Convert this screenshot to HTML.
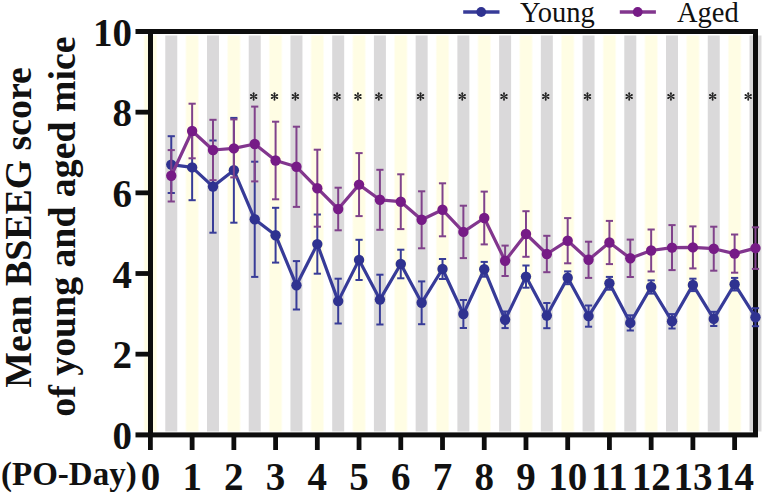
<!DOCTYPE html><html><head><meta charset="utf-8"><title>BSEEG</title>
<style>html,body{margin:0;padding:0;background:#fff;width:764px;height:494px;overflow:hidden}svg{display:block}text{font-family:"Liberation Serif",serif}</style></head><body>
<svg width="764" height="494" viewBox="0 0 764 494">
<defs><linearGradient id="yg" x1="0" x2="1" y1="0" y2="0"><stop offset="0" stop-color="#fffde4" stop-opacity="0"/><stop offset="0.14" stop-color="#fffde4" stop-opacity="1"/><stop offset="0.86" stop-color="#fffde4" stop-opacity="1"/><stop offset="1" stop-color="#fffde4" stop-opacity="0"/></linearGradient></defs>
<rect x="143.15" y="35.5" width="14.5" height="396" fill="url(#yg)"/>
<rect x="165.27" y="35.5" width="12" height="396" fill="#dad9da"/>
<rect x="184.88" y="35.5" width="14.5" height="396" fill="url(#yg)"/>
<rect x="207.00" y="35.5" width="12" height="396" fill="#dad9da"/>
<rect x="226.61" y="35.5" width="14.5" height="396" fill="url(#yg)"/>
<rect x="248.72" y="35.5" width="12" height="396" fill="#dad9da"/>
<rect x="268.34" y="35.5" width="14.5" height="396" fill="url(#yg)"/>
<rect x="290.45" y="35.5" width="12" height="396" fill="#dad9da"/>
<rect x="310.07" y="35.5" width="14.5" height="396" fill="url(#yg)"/>
<rect x="332.19" y="35.5" width="12" height="396" fill="#dad9da"/>
<rect x="351.80" y="35.5" width="14.5" height="396" fill="url(#yg)"/>
<rect x="373.91" y="35.5" width="12" height="396" fill="#dad9da"/>
<rect x="393.53" y="35.5" width="14.5" height="396" fill="url(#yg)"/>
<rect x="415.64" y="35.5" width="12" height="396" fill="#dad9da"/>
<rect x="435.26" y="35.5" width="14.5" height="396" fill="url(#yg)"/>
<rect x="457.38" y="35.5" width="12" height="396" fill="#dad9da"/>
<rect x="476.99" y="35.5" width="14.5" height="396" fill="url(#yg)"/>
<rect x="499.11" y="35.5" width="12" height="396" fill="#dad9da"/>
<rect x="518.72" y="35.5" width="14.5" height="396" fill="url(#yg)"/>
<rect x="540.83" y="35.5" width="12" height="396" fill="#dad9da"/>
<rect x="560.45" y="35.5" width="14.5" height="396" fill="url(#yg)"/>
<rect x="582.56" y="35.5" width="12" height="396" fill="#dad9da"/>
<rect x="602.18" y="35.5" width="14.5" height="396" fill="url(#yg)"/>
<rect x="624.29" y="35.5" width="12" height="396" fill="#dad9da"/>
<rect x="643.91" y="35.5" width="14.5" height="396" fill="url(#yg)"/>
<rect x="666.02" y="35.5" width="12" height="396" fill="#dad9da"/>
<rect x="685.64" y="35.5" width="14.5" height="396" fill="url(#yg)"/>
<rect x="707.75" y="35.5" width="12" height="396" fill="#dad9da"/>
<rect x="727.37" y="35.5" width="14.5" height="396" fill="url(#yg)"/>
<rect x="749.48" y="35.5" width="12" height="396" fill="#dad9da"/>
<rect x="135.5" y="29" width="622.5" height="5" fill="#0d0d0d"/>
<rect x="135.5" y="432.4" width="622.5" height="5" fill="#0d0d0d"/>
<rect x="148" y="29" width="5" height="408" fill="#0d0d0d"/>
<rect x="753" y="29" width="5" height="408" fill="#0d0d0d"/>
<rect x="135.5" y="351.78" width="14" height="4.8" fill="#0d0d0d"/>
<rect x="135.5" y="271.11" width="14" height="4.8" fill="#0d0d0d"/>
<rect x="135.5" y="190.44" width="14" height="4.8" fill="#0d0d0d"/>
<rect x="135.5" y="109.77" width="14" height="4.8" fill="#0d0d0d"/>
<rect x="148.00" y="436" width="4.8" height="14" fill="#0d0d0d"/>
<rect x="189.73" y="436" width="4.8" height="14" fill="#0d0d0d"/>
<rect x="231.46" y="436" width="4.8" height="14" fill="#0d0d0d"/>
<rect x="273.19" y="436" width="4.8" height="14" fill="#0d0d0d"/>
<rect x="314.92" y="436" width="4.8" height="14" fill="#0d0d0d"/>
<rect x="356.65" y="436" width="4.8" height="14" fill="#0d0d0d"/>
<rect x="398.38" y="436" width="4.8" height="14" fill="#0d0d0d"/>
<rect x="440.11" y="436" width="4.8" height="14" fill="#0d0d0d"/>
<rect x="481.84" y="436" width="4.8" height="14" fill="#0d0d0d"/>
<rect x="523.57" y="436" width="4.8" height="14" fill="#0d0d0d"/>
<rect x="565.30" y="436" width="4.8" height="14" fill="#0d0d0d"/>
<rect x="607.03" y="436" width="4.8" height="14" fill="#0d0d0d"/>
<rect x="648.76" y="436" width="4.8" height="14" fill="#0d0d0d"/>
<rect x="690.49" y="436" width="4.8" height="14" fill="#0d0d0d"/>
<rect x="732.22" y="436" width="4.8" height="14" fill="#0d0d0d"/>
<text x="132" y="449.05" font-size="39" font-weight="bold" text-anchor="end" fill="#111">0</text>
<text x="132" y="368.38" font-size="39" font-weight="bold" text-anchor="end" fill="#111">2</text>
<text x="132" y="287.71" font-size="39" font-weight="bold" text-anchor="end" fill="#111">4</text>
<text x="132" y="207.04" font-size="39" font-weight="bold" text-anchor="end" fill="#111">6</text>
<text x="132" y="126.37" font-size="39" font-weight="bold" text-anchor="end" fill="#111">8</text>
<text x="132" y="45.70" font-size="39" font-weight="bold" text-anchor="end" fill="#111">10</text>
<text x="150.40" y="489.5" font-size="39" font-weight="bold" text-anchor="middle" fill="#111">0</text>
<text x="192.13" y="489.5" font-size="39" font-weight="bold" text-anchor="middle" fill="#111">1</text>
<text x="233.86" y="489.5" font-size="39" font-weight="bold" text-anchor="middle" fill="#111">2</text>
<text x="275.59" y="489.5" font-size="39" font-weight="bold" text-anchor="middle" fill="#111">3</text>
<text x="317.32" y="489.5" font-size="39" font-weight="bold" text-anchor="middle" fill="#111">4</text>
<text x="359.05" y="489.5" font-size="39" font-weight="bold" text-anchor="middle" fill="#111">5</text>
<text x="400.78" y="489.5" font-size="39" font-weight="bold" text-anchor="middle" fill="#111">6</text>
<text x="442.51" y="489.5" font-size="39" font-weight="bold" text-anchor="middle" fill="#111">7</text>
<text x="484.24" y="489.5" font-size="39" font-weight="bold" text-anchor="middle" fill="#111">8</text>
<text x="525.97" y="489.5" font-size="39" font-weight="bold" text-anchor="middle" fill="#111">9</text>
<text x="567.70" y="489.5" font-size="39" font-weight="bold" text-anchor="middle" fill="#111">10</text>
<text x="609.43" y="489.5" font-size="39" font-weight="bold" text-anchor="middle" fill="#111">11</text>
<text x="651.16" y="489.5" font-size="39" font-weight="bold" text-anchor="middle" fill="#111">12</text>
<text x="692.89" y="489.5" font-size="39" font-weight="bold" text-anchor="middle" fill="#111">13</text>
<text x="734.62" y="489.5" font-size="39" font-weight="bold" text-anchor="middle" fill="#111">14</text>
<text x="1" y="484.5" font-size="33" font-weight="bold" fill="#111">(PO-Day)</text>
<text transform="translate(31.2,227.5) rotate(-90)" font-size="37.8" font-weight="bold" text-anchor="middle" fill="#111">Mean BSEEG score</text>
<text transform="translate(74.8,226.6) rotate(-90)" font-size="37.8" font-weight="bold" text-anchor="middle" fill="#111">of young and aged mice</text>
<line x1="463.2" y1="12" x2="499.5" y2="12" stroke="#373b98" stroke-width="3.6"/>
<circle cx="481.2" cy="12" r="4.9" fill="#2f3290"/>
<text x="520" y="21.6" font-size="28.5" fill="#111">Young</text>
<line x1="619.8" y1="12" x2="655.9" y2="12" stroke="#82368e" stroke-width="3.6"/>
<circle cx="637.7" cy="12" r="4.9" fill="#761b86"/>
<text x="677" y="21.6" font-size="28.5" fill="#111">Aged</text>
<g transform="translate(253.62,96.50)" fill="#222"><path d="M -0.35,0 L -0.95,-3.2 A 0.95 0.95 0 0 1 0.95,-3.2 L 0.35,0 Z" transform="rotate(0)"/><path d="M -0.35,0 L -0.95,-3.2 A 0.95 0.95 0 0 1 0.95,-3.2 L 0.35,0 Z" transform="rotate(60)"/><path d="M -0.35,0 L -0.95,-3.2 A 0.95 0.95 0 0 1 0.95,-3.2 L 0.35,0 Z" transform="rotate(120)"/><path d="M -0.35,0 L -0.95,-3.2 A 0.95 0.95 0 0 1 0.95,-3.2 L 0.35,0 Z" transform="rotate(180)"/><path d="M -0.35,0 L -0.95,-3.2 A 0.95 0.95 0 0 1 0.95,-3.2 L 0.35,0 Z" transform="rotate(240)"/><path d="M -0.35,0 L -0.95,-3.2 A 0.95 0.95 0 0 1 0.95,-3.2 L 0.35,0 Z" transform="rotate(300)"/></g>
<g transform="translate(274.49,96.50)" fill="#222"><path d="M -0.35,0 L -0.95,-3.2 A 0.95 0.95 0 0 1 0.95,-3.2 L 0.35,0 Z" transform="rotate(0)"/><path d="M -0.35,0 L -0.95,-3.2 A 0.95 0.95 0 0 1 0.95,-3.2 L 0.35,0 Z" transform="rotate(60)"/><path d="M -0.35,0 L -0.95,-3.2 A 0.95 0.95 0 0 1 0.95,-3.2 L 0.35,0 Z" transform="rotate(120)"/><path d="M -0.35,0 L -0.95,-3.2 A 0.95 0.95 0 0 1 0.95,-3.2 L 0.35,0 Z" transform="rotate(180)"/><path d="M -0.35,0 L -0.95,-3.2 A 0.95 0.95 0 0 1 0.95,-3.2 L 0.35,0 Z" transform="rotate(240)"/><path d="M -0.35,0 L -0.95,-3.2 A 0.95 0.95 0 0 1 0.95,-3.2 L 0.35,0 Z" transform="rotate(300)"/></g>
<g transform="translate(295.35,96.50)" fill="#222"><path d="M -0.35,0 L -0.95,-3.2 A 0.95 0.95 0 0 1 0.95,-3.2 L 0.35,0 Z" transform="rotate(0)"/><path d="M -0.35,0 L -0.95,-3.2 A 0.95 0.95 0 0 1 0.95,-3.2 L 0.35,0 Z" transform="rotate(60)"/><path d="M -0.35,0 L -0.95,-3.2 A 0.95 0.95 0 0 1 0.95,-3.2 L 0.35,0 Z" transform="rotate(120)"/><path d="M -0.35,0 L -0.95,-3.2 A 0.95 0.95 0 0 1 0.95,-3.2 L 0.35,0 Z" transform="rotate(180)"/><path d="M -0.35,0 L -0.95,-3.2 A 0.95 0.95 0 0 1 0.95,-3.2 L 0.35,0 Z" transform="rotate(240)"/><path d="M -0.35,0 L -0.95,-3.2 A 0.95 0.95 0 0 1 0.95,-3.2 L 0.35,0 Z" transform="rotate(300)"/></g>
<g transform="translate(337.08,96.50)" fill="#222"><path d="M -0.35,0 L -0.95,-3.2 A 0.95 0.95 0 0 1 0.95,-3.2 L 0.35,0 Z" transform="rotate(0)"/><path d="M -0.35,0 L -0.95,-3.2 A 0.95 0.95 0 0 1 0.95,-3.2 L 0.35,0 Z" transform="rotate(60)"/><path d="M -0.35,0 L -0.95,-3.2 A 0.95 0.95 0 0 1 0.95,-3.2 L 0.35,0 Z" transform="rotate(120)"/><path d="M -0.35,0 L -0.95,-3.2 A 0.95 0.95 0 0 1 0.95,-3.2 L 0.35,0 Z" transform="rotate(180)"/><path d="M -0.35,0 L -0.95,-3.2 A 0.95 0.95 0 0 1 0.95,-3.2 L 0.35,0 Z" transform="rotate(240)"/><path d="M -0.35,0 L -0.95,-3.2 A 0.95 0.95 0 0 1 0.95,-3.2 L 0.35,0 Z" transform="rotate(300)"/></g>
<g transform="translate(357.95,96.50)" fill="#222"><path d="M -0.35,0 L -0.95,-3.2 A 0.95 0.95 0 0 1 0.95,-3.2 L 0.35,0 Z" transform="rotate(0)"/><path d="M -0.35,0 L -0.95,-3.2 A 0.95 0.95 0 0 1 0.95,-3.2 L 0.35,0 Z" transform="rotate(60)"/><path d="M -0.35,0 L -0.95,-3.2 A 0.95 0.95 0 0 1 0.95,-3.2 L 0.35,0 Z" transform="rotate(120)"/><path d="M -0.35,0 L -0.95,-3.2 A 0.95 0.95 0 0 1 0.95,-3.2 L 0.35,0 Z" transform="rotate(180)"/><path d="M -0.35,0 L -0.95,-3.2 A 0.95 0.95 0 0 1 0.95,-3.2 L 0.35,0 Z" transform="rotate(240)"/><path d="M -0.35,0 L -0.95,-3.2 A 0.95 0.95 0 0 1 0.95,-3.2 L 0.35,0 Z" transform="rotate(300)"/></g>
<g transform="translate(378.81,96.50)" fill="#222"><path d="M -0.35,0 L -0.95,-3.2 A 0.95 0.95 0 0 1 0.95,-3.2 L 0.35,0 Z" transform="rotate(0)"/><path d="M -0.35,0 L -0.95,-3.2 A 0.95 0.95 0 0 1 0.95,-3.2 L 0.35,0 Z" transform="rotate(60)"/><path d="M -0.35,0 L -0.95,-3.2 A 0.95 0.95 0 0 1 0.95,-3.2 L 0.35,0 Z" transform="rotate(120)"/><path d="M -0.35,0 L -0.95,-3.2 A 0.95 0.95 0 0 1 0.95,-3.2 L 0.35,0 Z" transform="rotate(180)"/><path d="M -0.35,0 L -0.95,-3.2 A 0.95 0.95 0 0 1 0.95,-3.2 L 0.35,0 Z" transform="rotate(240)"/><path d="M -0.35,0 L -0.95,-3.2 A 0.95 0.95 0 0 1 0.95,-3.2 L 0.35,0 Z" transform="rotate(300)"/></g>
<g transform="translate(420.54,96.50)" fill="#222"><path d="M -0.35,0 L -0.95,-3.2 A 0.95 0.95 0 0 1 0.95,-3.2 L 0.35,0 Z" transform="rotate(0)"/><path d="M -0.35,0 L -0.95,-3.2 A 0.95 0.95 0 0 1 0.95,-3.2 L 0.35,0 Z" transform="rotate(60)"/><path d="M -0.35,0 L -0.95,-3.2 A 0.95 0.95 0 0 1 0.95,-3.2 L 0.35,0 Z" transform="rotate(120)"/><path d="M -0.35,0 L -0.95,-3.2 A 0.95 0.95 0 0 1 0.95,-3.2 L 0.35,0 Z" transform="rotate(180)"/><path d="M -0.35,0 L -0.95,-3.2 A 0.95 0.95 0 0 1 0.95,-3.2 L 0.35,0 Z" transform="rotate(240)"/><path d="M -0.35,0 L -0.95,-3.2 A 0.95 0.95 0 0 1 0.95,-3.2 L 0.35,0 Z" transform="rotate(300)"/></g>
<g transform="translate(462.27,96.50)" fill="#222"><path d="M -0.35,0 L -0.95,-3.2 A 0.95 0.95 0 0 1 0.95,-3.2 L 0.35,0 Z" transform="rotate(0)"/><path d="M -0.35,0 L -0.95,-3.2 A 0.95 0.95 0 0 1 0.95,-3.2 L 0.35,0 Z" transform="rotate(60)"/><path d="M -0.35,0 L -0.95,-3.2 A 0.95 0.95 0 0 1 0.95,-3.2 L 0.35,0 Z" transform="rotate(120)"/><path d="M -0.35,0 L -0.95,-3.2 A 0.95 0.95 0 0 1 0.95,-3.2 L 0.35,0 Z" transform="rotate(180)"/><path d="M -0.35,0 L -0.95,-3.2 A 0.95 0.95 0 0 1 0.95,-3.2 L 0.35,0 Z" transform="rotate(240)"/><path d="M -0.35,0 L -0.95,-3.2 A 0.95 0.95 0 0 1 0.95,-3.2 L 0.35,0 Z" transform="rotate(300)"/></g>
<g transform="translate(504.00,96.50)" fill="#222"><path d="M -0.35,0 L -0.95,-3.2 A 0.95 0.95 0 0 1 0.95,-3.2 L 0.35,0 Z" transform="rotate(0)"/><path d="M -0.35,0 L -0.95,-3.2 A 0.95 0.95 0 0 1 0.95,-3.2 L 0.35,0 Z" transform="rotate(60)"/><path d="M -0.35,0 L -0.95,-3.2 A 0.95 0.95 0 0 1 0.95,-3.2 L 0.35,0 Z" transform="rotate(120)"/><path d="M -0.35,0 L -0.95,-3.2 A 0.95 0.95 0 0 1 0.95,-3.2 L 0.35,0 Z" transform="rotate(180)"/><path d="M -0.35,0 L -0.95,-3.2 A 0.95 0.95 0 0 1 0.95,-3.2 L 0.35,0 Z" transform="rotate(240)"/><path d="M -0.35,0 L -0.95,-3.2 A 0.95 0.95 0 0 1 0.95,-3.2 L 0.35,0 Z" transform="rotate(300)"/></g>
<g transform="translate(545.73,96.50)" fill="#222"><path d="M -0.35,0 L -0.95,-3.2 A 0.95 0.95 0 0 1 0.95,-3.2 L 0.35,0 Z" transform="rotate(0)"/><path d="M -0.35,0 L -0.95,-3.2 A 0.95 0.95 0 0 1 0.95,-3.2 L 0.35,0 Z" transform="rotate(60)"/><path d="M -0.35,0 L -0.95,-3.2 A 0.95 0.95 0 0 1 0.95,-3.2 L 0.35,0 Z" transform="rotate(120)"/><path d="M -0.35,0 L -0.95,-3.2 A 0.95 0.95 0 0 1 0.95,-3.2 L 0.35,0 Z" transform="rotate(180)"/><path d="M -0.35,0 L -0.95,-3.2 A 0.95 0.95 0 0 1 0.95,-3.2 L 0.35,0 Z" transform="rotate(240)"/><path d="M -0.35,0 L -0.95,-3.2 A 0.95 0.95 0 0 1 0.95,-3.2 L 0.35,0 Z" transform="rotate(300)"/></g>
<g transform="translate(587.46,96.50)" fill="#222"><path d="M -0.35,0 L -0.95,-3.2 A 0.95 0.95 0 0 1 0.95,-3.2 L 0.35,0 Z" transform="rotate(0)"/><path d="M -0.35,0 L -0.95,-3.2 A 0.95 0.95 0 0 1 0.95,-3.2 L 0.35,0 Z" transform="rotate(60)"/><path d="M -0.35,0 L -0.95,-3.2 A 0.95 0.95 0 0 1 0.95,-3.2 L 0.35,0 Z" transform="rotate(120)"/><path d="M -0.35,0 L -0.95,-3.2 A 0.95 0.95 0 0 1 0.95,-3.2 L 0.35,0 Z" transform="rotate(180)"/><path d="M -0.35,0 L -0.95,-3.2 A 0.95 0.95 0 0 1 0.95,-3.2 L 0.35,0 Z" transform="rotate(240)"/><path d="M -0.35,0 L -0.95,-3.2 A 0.95 0.95 0 0 1 0.95,-3.2 L 0.35,0 Z" transform="rotate(300)"/></g>
<g transform="translate(629.19,96.50)" fill="#222"><path d="M -0.35,0 L -0.95,-3.2 A 0.95 0.95 0 0 1 0.95,-3.2 L 0.35,0 Z" transform="rotate(0)"/><path d="M -0.35,0 L -0.95,-3.2 A 0.95 0.95 0 0 1 0.95,-3.2 L 0.35,0 Z" transform="rotate(60)"/><path d="M -0.35,0 L -0.95,-3.2 A 0.95 0.95 0 0 1 0.95,-3.2 L 0.35,0 Z" transform="rotate(120)"/><path d="M -0.35,0 L -0.95,-3.2 A 0.95 0.95 0 0 1 0.95,-3.2 L 0.35,0 Z" transform="rotate(180)"/><path d="M -0.35,0 L -0.95,-3.2 A 0.95 0.95 0 0 1 0.95,-3.2 L 0.35,0 Z" transform="rotate(240)"/><path d="M -0.35,0 L -0.95,-3.2 A 0.95 0.95 0 0 1 0.95,-3.2 L 0.35,0 Z" transform="rotate(300)"/></g>
<g transform="translate(670.92,96.50)" fill="#222"><path d="M -0.35,0 L -0.95,-3.2 A 0.95 0.95 0 0 1 0.95,-3.2 L 0.35,0 Z" transform="rotate(0)"/><path d="M -0.35,0 L -0.95,-3.2 A 0.95 0.95 0 0 1 0.95,-3.2 L 0.35,0 Z" transform="rotate(60)"/><path d="M -0.35,0 L -0.95,-3.2 A 0.95 0.95 0 0 1 0.95,-3.2 L 0.35,0 Z" transform="rotate(120)"/><path d="M -0.35,0 L -0.95,-3.2 A 0.95 0.95 0 0 1 0.95,-3.2 L 0.35,0 Z" transform="rotate(180)"/><path d="M -0.35,0 L -0.95,-3.2 A 0.95 0.95 0 0 1 0.95,-3.2 L 0.35,0 Z" transform="rotate(240)"/><path d="M -0.35,0 L -0.95,-3.2 A 0.95 0.95 0 0 1 0.95,-3.2 L 0.35,0 Z" transform="rotate(300)"/></g>
<g transform="translate(712.65,96.50)" fill="#222"><path d="M -0.35,0 L -0.95,-3.2 A 0.95 0.95 0 0 1 0.95,-3.2 L 0.35,0 Z" transform="rotate(0)"/><path d="M -0.35,0 L -0.95,-3.2 A 0.95 0.95 0 0 1 0.95,-3.2 L 0.35,0 Z" transform="rotate(60)"/><path d="M -0.35,0 L -0.95,-3.2 A 0.95 0.95 0 0 1 0.95,-3.2 L 0.35,0 Z" transform="rotate(120)"/><path d="M -0.35,0 L -0.95,-3.2 A 0.95 0.95 0 0 1 0.95,-3.2 L 0.35,0 Z" transform="rotate(180)"/><path d="M -0.35,0 L -0.95,-3.2 A 0.95 0.95 0 0 1 0.95,-3.2 L 0.35,0 Z" transform="rotate(240)"/><path d="M -0.35,0 L -0.95,-3.2 A 0.95 0.95 0 0 1 0.95,-3.2 L 0.35,0 Z" transform="rotate(300)"/></g>
<g transform="translate(748.20,96.50)" fill="#222"><path d="M -0.35,0 L -0.95,-3.2 A 0.95 0.95 0 0 1 0.95,-3.2 L 0.35,0 Z" transform="rotate(0)"/><path d="M -0.35,0 L -0.95,-3.2 A 0.95 0.95 0 0 1 0.95,-3.2 L 0.35,0 Z" transform="rotate(60)"/><path d="M -0.35,0 L -0.95,-3.2 A 0.95 0.95 0 0 1 0.95,-3.2 L 0.35,0 Z" transform="rotate(120)"/><path d="M -0.35,0 L -0.95,-3.2 A 0.95 0.95 0 0 1 0.95,-3.2 L 0.35,0 Z" transform="rotate(180)"/><path d="M -0.35,0 L -0.95,-3.2 A 0.95 0.95 0 0 1 0.95,-3.2 L 0.35,0 Z" transform="rotate(240)"/><path d="M -0.35,0 L -0.95,-3.2 A 0.95 0.95 0 0 1 0.95,-3.2 L 0.35,0 Z" transform="rotate(300)"/></g>
<line x1="171.27" y1="136.20" x2="171.27" y2="193.00" stroke="#383c98" stroke-width="2"/><line x1="167.67" y1="136.20" x2="174.87" y2="136.20" stroke="#383c98" stroke-width="2"/><line x1="167.67" y1="193.00" x2="174.87" y2="193.00" stroke="#383c98" stroke-width="2"/><line x1="192.13" y1="134.60" x2="192.13" y2="200.20" stroke="#383c98" stroke-width="2"/><line x1="188.53" y1="134.60" x2="195.73" y2="134.60" stroke="#383c98" stroke-width="2"/><line x1="188.53" y1="200.20" x2="195.73" y2="200.20" stroke="#383c98" stroke-width="2"/><line x1="213.00" y1="140.50" x2="213.00" y2="232.70" stroke="#383c98" stroke-width="2"/><line x1="209.40" y1="140.50" x2="216.59" y2="140.50" stroke="#383c98" stroke-width="2"/><line x1="209.40" y1="232.70" x2="216.59" y2="232.70" stroke="#383c98" stroke-width="2"/><line x1="233.86" y1="117.90" x2="233.86" y2="222.70" stroke="#383c98" stroke-width="2"/><line x1="230.26" y1="117.90" x2="237.46" y2="117.90" stroke="#383c98" stroke-width="2"/><line x1="230.26" y1="222.70" x2="237.46" y2="222.70" stroke="#383c98" stroke-width="2"/><line x1="254.72" y1="161.70" x2="254.72" y2="276.90" stroke="#383c98" stroke-width="2"/><line x1="251.12" y1="161.70" x2="258.32" y2="161.70" stroke="#383c98" stroke-width="2"/><line x1="251.12" y1="276.90" x2="258.32" y2="276.90" stroke="#383c98" stroke-width="2"/><line x1="275.59" y1="207.80" x2="275.59" y2="262.60" stroke="#383c98" stroke-width="2"/><line x1="271.99" y1="207.80" x2="279.19" y2="207.80" stroke="#383c98" stroke-width="2"/><line x1="271.99" y1="262.60" x2="279.19" y2="262.60" stroke="#383c98" stroke-width="2"/><line x1="296.45" y1="261.10" x2="296.45" y2="309.50" stroke="#383c98" stroke-width="2"/><line x1="292.85" y1="261.10" x2="300.06" y2="261.10" stroke="#383c98" stroke-width="2"/><line x1="292.85" y1="309.50" x2="300.06" y2="309.50" stroke="#383c98" stroke-width="2"/><line x1="317.32" y1="214.50" x2="317.32" y2="273.70" stroke="#383c98" stroke-width="2"/><line x1="313.72" y1="214.50" x2="320.92" y2="214.50" stroke="#383c98" stroke-width="2"/><line x1="313.72" y1="273.70" x2="320.92" y2="273.70" stroke="#383c98" stroke-width="2"/><line x1="338.19" y1="278.70" x2="338.19" y2="323.50" stroke="#383c98" stroke-width="2"/><line x1="334.58" y1="278.70" x2="341.79" y2="278.70" stroke="#383c98" stroke-width="2"/><line x1="334.58" y1="323.50" x2="341.79" y2="323.50" stroke="#383c98" stroke-width="2"/><line x1="359.05" y1="239.80" x2="359.05" y2="280.00" stroke="#383c98" stroke-width="2"/><line x1="355.45" y1="239.80" x2="362.65" y2="239.80" stroke="#383c98" stroke-width="2"/><line x1="355.45" y1="280.00" x2="362.65" y2="280.00" stroke="#383c98" stroke-width="2"/><line x1="379.91" y1="274.70" x2="379.91" y2="324.50" stroke="#383c98" stroke-width="2"/><line x1="376.31" y1="274.70" x2="383.51" y2="274.70" stroke="#383c98" stroke-width="2"/><line x1="376.31" y1="324.50" x2="383.51" y2="324.50" stroke="#383c98" stroke-width="2"/><line x1="400.78" y1="249.70" x2="400.78" y2="278.30" stroke="#383c98" stroke-width="2"/><line x1="397.18" y1="249.70" x2="404.38" y2="249.70" stroke="#383c98" stroke-width="2"/><line x1="397.18" y1="278.30" x2="404.38" y2="278.30" stroke="#383c98" stroke-width="2"/><line x1="421.64" y1="281.40" x2="421.64" y2="324.20" stroke="#383c98" stroke-width="2"/><line x1="418.04" y1="281.40" x2="425.25" y2="281.40" stroke="#383c98" stroke-width="2"/><line x1="418.04" y1="324.20" x2="425.25" y2="324.20" stroke="#383c98" stroke-width="2"/><line x1="442.51" y1="259.00" x2="442.51" y2="279.00" stroke="#383c98" stroke-width="2"/><line x1="438.91" y1="259.00" x2="446.11" y2="259.00" stroke="#383c98" stroke-width="2"/><line x1="438.91" y1="279.00" x2="446.11" y2="279.00" stroke="#383c98" stroke-width="2"/><line x1="463.38" y1="300.00" x2="463.38" y2="328.00" stroke="#383c98" stroke-width="2"/><line x1="459.77" y1="300.00" x2="466.98" y2="300.00" stroke="#383c98" stroke-width="2"/><line x1="459.77" y1="328.00" x2="466.98" y2="328.00" stroke="#383c98" stroke-width="2"/><line x1="484.24" y1="261.90" x2="484.24" y2="276.70" stroke="#383c98" stroke-width="2"/><line x1="480.64" y1="261.90" x2="487.84" y2="261.90" stroke="#383c98" stroke-width="2"/><line x1="480.64" y1="276.70" x2="487.84" y2="276.70" stroke="#383c98" stroke-width="2"/><line x1="505.11" y1="311.50" x2="505.11" y2="328.10" stroke="#383c98" stroke-width="2"/><line x1="501.50" y1="311.50" x2="508.71" y2="311.50" stroke="#383c98" stroke-width="2"/><line x1="501.50" y1="328.10" x2="508.71" y2="328.10" stroke="#383c98" stroke-width="2"/><line x1="525.97" y1="265.50" x2="525.97" y2="287.70" stroke="#383c98" stroke-width="2"/><line x1="522.37" y1="265.50" x2="529.57" y2="265.50" stroke="#383c98" stroke-width="2"/><line x1="522.37" y1="287.70" x2="529.57" y2="287.70" stroke="#383c98" stroke-width="2"/><line x1="546.83" y1="303.00" x2="546.83" y2="328.20" stroke="#383c98" stroke-width="2"/><line x1="543.23" y1="303.00" x2="550.43" y2="303.00" stroke="#383c98" stroke-width="2"/><line x1="543.23" y1="328.20" x2="550.43" y2="328.20" stroke="#383c98" stroke-width="2"/><line x1="567.70" y1="271.40" x2="567.70" y2="284.20" stroke="#383c98" stroke-width="2"/><line x1="564.10" y1="271.40" x2="571.30" y2="271.40" stroke="#383c98" stroke-width="2"/><line x1="564.10" y1="284.20" x2="571.30" y2="284.20" stroke="#383c98" stroke-width="2"/><line x1="588.56" y1="305.50" x2="588.56" y2="326.70" stroke="#383c98" stroke-width="2"/><line x1="584.96" y1="305.50" x2="592.16" y2="305.50" stroke="#383c98" stroke-width="2"/><line x1="584.96" y1="326.70" x2="592.16" y2="326.70" stroke="#383c98" stroke-width="2"/><line x1="609.43" y1="276.90" x2="609.43" y2="289.70" stroke="#383c98" stroke-width="2"/><line x1="605.83" y1="276.90" x2="613.03" y2="276.90" stroke="#383c98" stroke-width="2"/><line x1="605.83" y1="289.70" x2="613.03" y2="289.70" stroke="#383c98" stroke-width="2"/><line x1="630.29" y1="315.30" x2="630.29" y2="330.50" stroke="#383c98" stroke-width="2"/><line x1="626.69" y1="315.30" x2="633.89" y2="315.30" stroke="#383c98" stroke-width="2"/><line x1="626.69" y1="330.50" x2="633.89" y2="330.50" stroke="#383c98" stroke-width="2"/><line x1="651.16" y1="280.40" x2="651.16" y2="293.60" stroke="#383c98" stroke-width="2"/><line x1="647.56" y1="280.40" x2="654.76" y2="280.40" stroke="#383c98" stroke-width="2"/><line x1="647.56" y1="293.60" x2="654.76" y2="293.60" stroke="#383c98" stroke-width="2"/><line x1="672.02" y1="314.10" x2="672.02" y2="328.50" stroke="#383c98" stroke-width="2"/><line x1="668.42" y1="314.10" x2="675.62" y2="314.10" stroke="#383c98" stroke-width="2"/><line x1="668.42" y1="328.50" x2="675.62" y2="328.50" stroke="#383c98" stroke-width="2"/><line x1="692.89" y1="278.70" x2="692.89" y2="291.10" stroke="#383c98" stroke-width="2"/><line x1="689.29" y1="278.70" x2="696.49" y2="278.70" stroke="#383c98" stroke-width="2"/><line x1="689.29" y1="291.10" x2="696.49" y2="291.10" stroke="#383c98" stroke-width="2"/><line x1="713.75" y1="311.80" x2="713.75" y2="326.00" stroke="#383c98" stroke-width="2"/><line x1="710.15" y1="311.80" x2="717.35" y2="311.80" stroke="#383c98" stroke-width="2"/><line x1="710.15" y1="326.00" x2="717.35" y2="326.00" stroke="#383c98" stroke-width="2"/><line x1="734.62" y1="277.90" x2="734.62" y2="290.50" stroke="#383c98" stroke-width="2"/><line x1="731.02" y1="277.90" x2="738.22" y2="277.90" stroke="#383c98" stroke-width="2"/><line x1="731.02" y1="290.50" x2="738.22" y2="290.50" stroke="#383c98" stroke-width="2"/><line x1="755.48" y1="308.20" x2="755.48" y2="326.20" stroke="#383c98" stroke-width="2"/><line x1="751.88" y1="308.20" x2="759.08" y2="308.20" stroke="#383c98" stroke-width="2"/><line x1="751.88" y1="326.20" x2="759.08" y2="326.20" stroke="#383c98" stroke-width="2"/><polyline points="171.27,164.60 192.13,167.40 213.00,186.60 233.86,170.30 254.72,219.30 275.59,235.20 296.45,285.30 317.32,244.10 338.19,301.10 359.05,259.90 379.91,299.60 400.78,264.00 421.64,302.80 442.51,269.00 463.38,314.00 484.24,269.30 505.11,319.80 525.97,276.60 546.83,315.60 567.70,277.80 588.56,316.10 609.43,283.30 630.29,322.90 651.16,287.00 672.02,321.30 692.89,284.90 713.75,318.90 734.62,284.20 755.48,317.20" fill="none" stroke="#373b98" stroke-width="3.2" stroke-linejoin="round"/><circle cx="171.27" cy="164.60" r="5.2" fill="#2f3290"/><circle cx="192.13" cy="167.40" r="5.2" fill="#2f3290"/><circle cx="213.00" cy="186.60" r="5.2" fill="#2f3290"/><circle cx="233.86" cy="170.30" r="5.2" fill="#2f3290"/><circle cx="254.72" cy="219.30" r="5.2" fill="#2f3290"/><circle cx="275.59" cy="235.20" r="5.2" fill="#2f3290"/><circle cx="296.45" cy="285.30" r="5.2" fill="#2f3290"/><circle cx="317.32" cy="244.10" r="5.2" fill="#2f3290"/><circle cx="338.19" cy="301.10" r="5.2" fill="#2f3290"/><circle cx="359.05" cy="259.90" r="5.2" fill="#2f3290"/><circle cx="379.91" cy="299.60" r="5.2" fill="#2f3290"/><circle cx="400.78" cy="264.00" r="5.2" fill="#2f3290"/><circle cx="421.64" cy="302.80" r="5.2" fill="#2f3290"/><circle cx="442.51" cy="269.00" r="5.2" fill="#2f3290"/><circle cx="463.38" cy="314.00" r="5.2" fill="#2f3290"/><circle cx="484.24" cy="269.30" r="5.2" fill="#2f3290"/><circle cx="505.11" cy="319.80" r="5.2" fill="#2f3290"/><circle cx="525.97" cy="276.60" r="5.2" fill="#2f3290"/><circle cx="546.83" cy="315.60" r="5.2" fill="#2f3290"/><circle cx="567.70" cy="277.80" r="5.2" fill="#2f3290"/><circle cx="588.56" cy="316.10" r="5.2" fill="#2f3290"/><circle cx="609.43" cy="283.30" r="5.2" fill="#2f3290"/><circle cx="630.29" cy="322.90" r="5.2" fill="#2f3290"/><circle cx="651.16" cy="287.00" r="5.2" fill="#2f3290"/><circle cx="672.02" cy="321.30" r="5.2" fill="#2f3290"/><circle cx="692.89" cy="284.90" r="5.2" fill="#2f3290"/><circle cx="713.75" cy="318.90" r="5.2" fill="#2f3290"/><circle cx="734.62" cy="284.20" r="5.2" fill="#2f3290"/><circle cx="755.48" cy="317.20" r="5.2" fill="#2f3290"/>
<line x1="171.27" y1="150.10" x2="171.27" y2="201.50" stroke="#80428b" stroke-width="2"/><line x1="167.67" y1="150.10" x2="174.87" y2="150.10" stroke="#80428b" stroke-width="2"/><line x1="167.67" y1="201.50" x2="174.87" y2="201.50" stroke="#80428b" stroke-width="2"/><line x1="192.13" y1="103.70" x2="192.13" y2="158.30" stroke="#80428b" stroke-width="2"/><line x1="188.53" y1="103.70" x2="195.73" y2="103.70" stroke="#80428b" stroke-width="2"/><line x1="188.53" y1="158.30" x2="195.73" y2="158.30" stroke="#80428b" stroke-width="2"/><line x1="213.00" y1="119.80" x2="213.00" y2="180.20" stroke="#80428b" stroke-width="2"/><line x1="209.40" y1="119.80" x2="216.59" y2="119.80" stroke="#80428b" stroke-width="2"/><line x1="209.40" y1="180.20" x2="216.59" y2="180.20" stroke="#80428b" stroke-width="2"/><line x1="233.86" y1="119.40" x2="233.86" y2="177.40" stroke="#80428b" stroke-width="2"/><line x1="230.26" y1="119.40" x2="237.46" y2="119.40" stroke="#80428b" stroke-width="2"/><line x1="230.26" y1="177.40" x2="237.46" y2="177.40" stroke="#80428b" stroke-width="2"/><line x1="254.72" y1="106.60" x2="254.72" y2="181.40" stroke="#80428b" stroke-width="2"/><line x1="251.12" y1="106.60" x2="258.32" y2="106.60" stroke="#80428b" stroke-width="2"/><line x1="251.12" y1="181.40" x2="258.32" y2="181.40" stroke="#80428b" stroke-width="2"/><line x1="275.59" y1="121.70" x2="275.59" y2="199.30" stroke="#80428b" stroke-width="2"/><line x1="271.99" y1="121.70" x2="279.19" y2="121.70" stroke="#80428b" stroke-width="2"/><line x1="271.99" y1="199.30" x2="279.19" y2="199.30" stroke="#80428b" stroke-width="2"/><line x1="296.45" y1="126.70" x2="296.45" y2="206.90" stroke="#80428b" stroke-width="2"/><line x1="292.85" y1="126.70" x2="300.06" y2="126.70" stroke="#80428b" stroke-width="2"/><line x1="292.85" y1="206.90" x2="300.06" y2="206.90" stroke="#80428b" stroke-width="2"/><line x1="317.32" y1="149.70" x2="317.32" y2="226.70" stroke="#80428b" stroke-width="2"/><line x1="313.72" y1="149.70" x2="320.92" y2="149.70" stroke="#80428b" stroke-width="2"/><line x1="313.72" y1="226.70" x2="320.92" y2="226.70" stroke="#80428b" stroke-width="2"/><line x1="338.19" y1="187.70" x2="338.19" y2="230.30" stroke="#80428b" stroke-width="2"/><line x1="334.58" y1="187.70" x2="341.79" y2="187.70" stroke="#80428b" stroke-width="2"/><line x1="334.58" y1="230.30" x2="341.79" y2="230.30" stroke="#80428b" stroke-width="2"/><line x1="359.05" y1="153.10" x2="359.05" y2="216.10" stroke="#80428b" stroke-width="2"/><line x1="355.45" y1="153.10" x2="362.65" y2="153.10" stroke="#80428b" stroke-width="2"/><line x1="355.45" y1="216.10" x2="362.65" y2="216.10" stroke="#80428b" stroke-width="2"/><line x1="379.91" y1="169.80" x2="379.91" y2="229.80" stroke="#80428b" stroke-width="2"/><line x1="376.31" y1="169.80" x2="383.51" y2="169.80" stroke="#80428b" stroke-width="2"/><line x1="376.31" y1="229.80" x2="383.51" y2="229.80" stroke="#80428b" stroke-width="2"/><line x1="400.78" y1="174.30" x2="400.78" y2="229.10" stroke="#80428b" stroke-width="2"/><line x1="397.18" y1="174.30" x2="404.38" y2="174.30" stroke="#80428b" stroke-width="2"/><line x1="397.18" y1="229.10" x2="404.38" y2="229.10" stroke="#80428b" stroke-width="2"/><line x1="421.64" y1="191.30" x2="421.64" y2="248.30" stroke="#80428b" stroke-width="2"/><line x1="418.04" y1="191.30" x2="425.25" y2="191.30" stroke="#80428b" stroke-width="2"/><line x1="418.04" y1="248.30" x2="425.25" y2="248.30" stroke="#80428b" stroke-width="2"/><line x1="442.51" y1="183.30" x2="442.51" y2="236.30" stroke="#80428b" stroke-width="2"/><line x1="438.91" y1="183.30" x2="446.11" y2="183.30" stroke="#80428b" stroke-width="2"/><line x1="438.91" y1="236.30" x2="446.11" y2="236.30" stroke="#80428b" stroke-width="2"/><line x1="463.38" y1="205.70" x2="463.38" y2="258.10" stroke="#80428b" stroke-width="2"/><line x1="459.77" y1="205.70" x2="466.98" y2="205.70" stroke="#80428b" stroke-width="2"/><line x1="459.77" y1="258.10" x2="466.98" y2="258.10" stroke="#80428b" stroke-width="2"/><line x1="484.24" y1="191.60" x2="484.24" y2="244.40" stroke="#80428b" stroke-width="2"/><line x1="480.64" y1="191.60" x2="487.84" y2="191.60" stroke="#80428b" stroke-width="2"/><line x1="480.64" y1="244.40" x2="487.84" y2="244.40" stroke="#80428b" stroke-width="2"/><line x1="505.11" y1="245.60" x2="505.11" y2="276.00" stroke="#80428b" stroke-width="2"/><line x1="501.50" y1="245.60" x2="508.71" y2="245.60" stroke="#80428b" stroke-width="2"/><line x1="501.50" y1="276.00" x2="508.71" y2="276.00" stroke="#80428b" stroke-width="2"/><line x1="525.97" y1="211.20" x2="525.97" y2="256.80" stroke="#80428b" stroke-width="2"/><line x1="522.37" y1="211.20" x2="529.57" y2="211.20" stroke="#80428b" stroke-width="2"/><line x1="522.37" y1="256.80" x2="529.57" y2="256.80" stroke="#80428b" stroke-width="2"/><line x1="546.83" y1="235.80" x2="546.83" y2="272.20" stroke="#80428b" stroke-width="2"/><line x1="543.23" y1="235.80" x2="550.43" y2="235.80" stroke="#80428b" stroke-width="2"/><line x1="543.23" y1="272.20" x2="550.43" y2="272.20" stroke="#80428b" stroke-width="2"/><line x1="567.70" y1="218.10" x2="567.70" y2="263.30" stroke="#80428b" stroke-width="2"/><line x1="564.10" y1="218.10" x2="571.30" y2="218.10" stroke="#80428b" stroke-width="2"/><line x1="564.10" y1="263.30" x2="571.30" y2="263.30" stroke="#80428b" stroke-width="2"/><line x1="588.56" y1="241.70" x2="588.56" y2="277.90" stroke="#80428b" stroke-width="2"/><line x1="584.96" y1="241.70" x2="592.16" y2="241.70" stroke="#80428b" stroke-width="2"/><line x1="584.96" y1="277.90" x2="592.16" y2="277.90" stroke="#80428b" stroke-width="2"/><line x1="609.43" y1="220.90" x2="609.43" y2="264.10" stroke="#80428b" stroke-width="2"/><line x1="605.83" y1="220.90" x2="613.03" y2="220.90" stroke="#80428b" stroke-width="2"/><line x1="605.83" y1="264.10" x2="613.03" y2="264.10" stroke="#80428b" stroke-width="2"/><line x1="630.29" y1="239.60" x2="630.29" y2="277.00" stroke="#80428b" stroke-width="2"/><line x1="626.69" y1="239.60" x2="633.89" y2="239.60" stroke="#80428b" stroke-width="2"/><line x1="626.69" y1="277.00" x2="633.89" y2="277.00" stroke="#80428b" stroke-width="2"/><line x1="651.16" y1="229.50" x2="651.16" y2="271.50" stroke="#80428b" stroke-width="2"/><line x1="647.56" y1="229.50" x2="654.76" y2="229.50" stroke="#80428b" stroke-width="2"/><line x1="647.56" y1="271.50" x2="654.76" y2="271.50" stroke="#80428b" stroke-width="2"/><line x1="672.02" y1="225.10" x2="672.02" y2="270.10" stroke="#80428b" stroke-width="2"/><line x1="668.42" y1="225.10" x2="675.62" y2="225.10" stroke="#80428b" stroke-width="2"/><line x1="668.42" y1="270.10" x2="675.62" y2="270.10" stroke="#80428b" stroke-width="2"/><line x1="692.89" y1="226.40" x2="692.89" y2="268.40" stroke="#80428b" stroke-width="2"/><line x1="689.29" y1="226.40" x2="696.49" y2="226.40" stroke="#80428b" stroke-width="2"/><line x1="689.29" y1="268.40" x2="696.49" y2="268.40" stroke="#80428b" stroke-width="2"/><line x1="713.75" y1="226.70" x2="713.75" y2="270.70" stroke="#80428b" stroke-width="2"/><line x1="710.15" y1="226.70" x2="717.35" y2="226.70" stroke="#80428b" stroke-width="2"/><line x1="710.15" y1="270.70" x2="717.35" y2="270.70" stroke="#80428b" stroke-width="2"/><line x1="734.62" y1="234.50" x2="734.62" y2="272.70" stroke="#80428b" stroke-width="2"/><line x1="731.02" y1="234.50" x2="738.22" y2="234.50" stroke="#80428b" stroke-width="2"/><line x1="731.02" y1="272.70" x2="738.22" y2="272.70" stroke="#80428b" stroke-width="2"/><line x1="755.48" y1="227.30" x2="755.48" y2="268.90" stroke="#80428b" stroke-width="2"/><line x1="751.88" y1="227.30" x2="759.08" y2="227.30" stroke="#80428b" stroke-width="2"/><line x1="751.88" y1="268.90" x2="759.08" y2="268.90" stroke="#80428b" stroke-width="2"/><polyline points="171.27,175.80 192.13,131.00 213.00,150.00 233.86,148.40 254.72,144.00 275.59,160.50 296.45,166.80 317.32,188.20 338.19,209.00 359.05,184.60 379.91,199.80 400.78,201.70 421.64,219.80 442.51,209.80 463.38,231.90 484.24,218.00 505.11,260.80 525.97,234.00 546.83,254.00 567.70,240.70 588.56,259.80 609.43,242.50 630.29,258.30 651.16,250.50 672.02,247.60 692.89,247.40 713.75,248.70 734.62,253.60 755.48,248.10" fill="none" stroke="#82368e" stroke-width="3.2" stroke-linejoin="round"/><circle cx="171.27" cy="175.80" r="5.2" fill="#761b86"/><circle cx="192.13" cy="131.00" r="5.2" fill="#761b86"/><circle cx="213.00" cy="150.00" r="5.2" fill="#761b86"/><circle cx="233.86" cy="148.40" r="5.2" fill="#761b86"/><circle cx="254.72" cy="144.00" r="5.2" fill="#761b86"/><circle cx="275.59" cy="160.50" r="5.2" fill="#761b86"/><circle cx="296.45" cy="166.80" r="5.2" fill="#761b86"/><circle cx="317.32" cy="188.20" r="5.2" fill="#761b86"/><circle cx="338.19" cy="209.00" r="5.2" fill="#761b86"/><circle cx="359.05" cy="184.60" r="5.2" fill="#761b86"/><circle cx="379.91" cy="199.80" r="5.2" fill="#761b86"/><circle cx="400.78" cy="201.70" r="5.2" fill="#761b86"/><circle cx="421.64" cy="219.80" r="5.2" fill="#761b86"/><circle cx="442.51" cy="209.80" r="5.2" fill="#761b86"/><circle cx="463.38" cy="231.90" r="5.2" fill="#761b86"/><circle cx="484.24" cy="218.00" r="5.2" fill="#761b86"/><circle cx="505.11" cy="260.80" r="5.2" fill="#761b86"/><circle cx="525.97" cy="234.00" r="5.2" fill="#761b86"/><circle cx="546.83" cy="254.00" r="5.2" fill="#761b86"/><circle cx="567.70" cy="240.70" r="5.2" fill="#761b86"/><circle cx="588.56" cy="259.80" r="5.2" fill="#761b86"/><circle cx="609.43" cy="242.50" r="5.2" fill="#761b86"/><circle cx="630.29" cy="258.30" r="5.2" fill="#761b86"/><circle cx="651.16" cy="250.50" r="5.2" fill="#761b86"/><circle cx="672.02" cy="247.60" r="5.2" fill="#761b86"/><circle cx="692.89" cy="247.40" r="5.2" fill="#761b86"/><circle cx="713.75" cy="248.70" r="5.2" fill="#761b86"/><circle cx="734.62" cy="253.60" r="5.2" fill="#761b86"/><circle cx="755.48" cy="248.10" r="5.2" fill="#761b86"/>
</svg></body></html>
